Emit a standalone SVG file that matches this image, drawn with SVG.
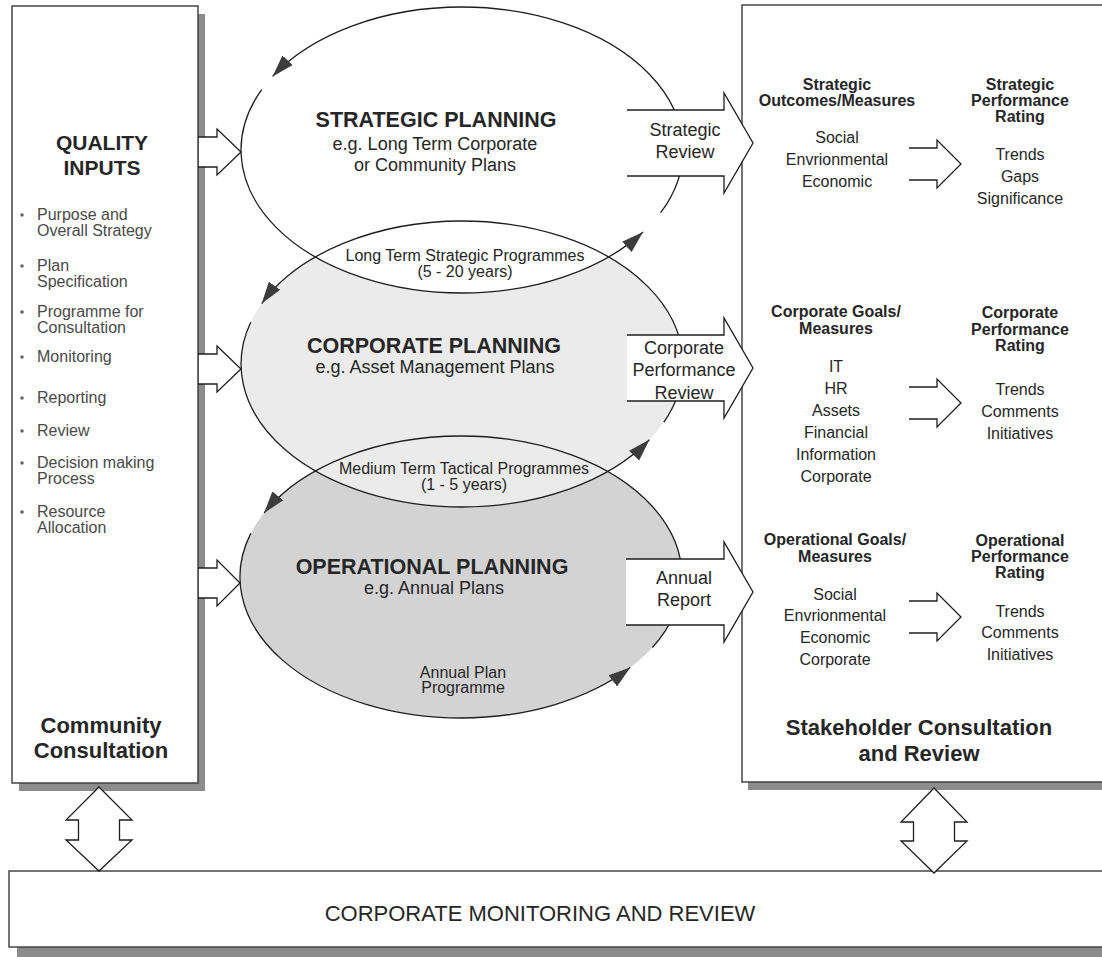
<svg xmlns="http://www.w3.org/2000/svg" width="1102" height="957" viewBox="0 0 1102 957">
<style>
text{font-family:"Liberation Sans",Arial,Helvetica,sans-serif;fill:#262626}
.c{text-anchor:middle}
.b{font-weight:bold}
.s16{font-size:16px}
.s18{font-size:18px}
.h{font-size:21.5px;font-weight:bold}
.big{font-size:22px;font-weight:bold}
.bul{font-size:16px;fill:#4a4a4a}
.box{fill:#fff;stroke:#3a3a3a;stroke-width:1.4}
.shadow{fill:#8c8c8c}
.arc{fill:none;stroke:#1e1e1e;stroke-width:1.3;marker-end:url(#ah)}
.afill{fill:#fff;stroke:none}
.aline{fill:none;stroke:#1e1e1e;stroke-width:1.3;stroke-linejoin:miter}
.dbl{fill:#fff;stroke:#1e1e1e;stroke-width:1.3}
</style>
<defs>
<marker id="ah" markerUnits="userSpaceOnUse" markerWidth="24" markerHeight="16" viewBox="0 0 24 16" refX="22" refY="8" orient="auto">
<path d="M0,1 L22,8 L0,15 Z" fill="#3c3c3c"/>
</marker>
</defs>
<rect width="1102" height="957" fill="#fff"/>

<g id="community-consultation">
<rect class="shadow" x="19" y="14" width="186" height="777"/>
<rect class="box" x="12" y="6" width="186" height="777"/>
<text class="c" x="102" y="150" style="font-size:21px;font-weight:bold">QUALITY</text>
<text class="c" x="102" y="175" style="font-size:21px;font-weight:bold">INPUTS</text>
<g class="bul">
<circle cx="22" cy="215" r="1.8" fill="#666"/>
<text class="bul" x="37" y="220">Purpose and</text>
<text class="bul" x="37" y="236">Overall Strategy</text>
<circle cx="22" cy="266" r="1.8" fill="#666"/>
<text class="bul" x="37" y="271">Plan</text>
<text class="bul" x="37" y="287">Specification</text>
<circle cx="22" cy="312" r="1.8" fill="#666"/>
<text class="bul" x="37" y="317">Programme for</text>
<text class="bul" x="37" y="333">Consultation</text>
<circle cx="22" cy="357" r="1.8" fill="#666"/>
<text class="bul" x="37" y="362">Monitoring</text>
<circle cx="22" cy="398" r="1.8" fill="#666"/>
<text class="bul" x="37" y="403">Reporting</text>
<circle cx="22" cy="431" r="1.8" fill="#666"/>
<text class="bul" x="37" y="436">Review</text>
<circle cx="22" cy="463" r="1.8" fill="#666"/>
<text class="bul" x="37" y="468">Decision making</text>
<text class="bul" x="37" y="484">Process</text>
<circle cx="22" cy="512" r="1.8" fill="#666"/>
<text class="bul" x="37" y="517">Resource</text>
<text class="bul" x="37" y="533">Allocation</text>
</g>
<text class="c big" x="101" y="733">Community</text>
<text class="c big" x="101" y="758">Consultation</text>
</g>

<g id="stakeholder-review">
<rect class="shadow" x="748" y="13" width="400" height="777"/>
<rect class="box" x="742" y="5" width="400" height="777"/>
<text class="c b s16" x="837" y="90">Strategic</text>
<text class="c b s16" x="837" y="106">Outcomes/Measures</text>
<text class="c s16" x="837" y="143">Social</text>
<text class="c s16" x="837" y="165">Envrionmental</text>
<text class="c s16" x="837" y="187">Economic</text>
<text class="c b s16" x="1020" y="90">Strategic</text>
<text class="c b s16" x="1020" y="106">Performance</text>
<text class="c b s16" x="1020" y="122">Rating</text>
<text class="c s16" x="1020" y="160">Trends</text>
<text class="c s16" x="1020" y="182">Gaps</text>
<text class="c s16" x="1020" y="204">Significance</text>

<text class="c b s16" x="836" y="317">Corporate Goals/</text>
<text class="c b s16" x="836" y="334">Measures</text>
<text class="c s16" x="836" y="372">IT</text>
<text class="c s16" x="836" y="394">HR</text>
<text class="c s16" x="836" y="416">Assets</text>
<text class="c s16" x="836" y="438">Financial</text>
<text class="c s16" x="836" y="460">Information</text>
<text class="c s16" x="836" y="482">Corporate</text>
<text class="c b s16" x="1020" y="318">Corporate</text>
<text class="c b s16" x="1020" y="335">Performance</text>
<text class="c b s16" x="1020" y="351">Rating</text>
<text class="c s16" x="1020" y="395">Trends</text>
<text class="c s16" x="1020" y="417">Comments</text>
<text class="c s16" x="1020" y="439">Initiatives</text>

<text class="c b s16" x="835" y="545">Operational Goals/</text>
<text class="c b s16" x="835" y="562">Measures</text>
<text class="c s16" x="835" y="600">Social</text>
<text class="c s16" x="835" y="621">Envrionmental</text>
<text class="c s16" x="835" y="643">Economic</text>
<text class="c s16" x="835" y="665">Corporate</text>
<text class="c b s16" x="1020" y="546">Operational</text>
<text class="c b s16" x="1020" y="562">Performance</text>
<text class="c b s16" x="1020" y="578">Rating</text>
<text class="c s16" x="1020" y="617">Trends</text>
<text class="c s16" x="1020" y="638">Comments</text>
<text class="c s16" x="1020" y="660">Initiatives</text>

<text class="c big" x="919" y="735">Stakeholder Consultation</text>
<text class="c big" x="919" y="761">and Review</text>
</g>

<g id="corporate-monitoring">
<rect class="shadow" x="17" y="879" width="1100" height="78"/>
<rect class="box" x="9" y="871" width="1100" height="76"/>
<text class="c" x="540" y="921" style="font-size:22px">CORPORATE MONITORING AND REVIEW</text>
</g>

<g id="operational-planning">
<ellipse cx="461" cy="577" rx="221" ry="141" fill="#d3d3d3"/>
</g>
<g id="corporate-planning">
<ellipse cx="462" cy="364" rx="221" ry="143" fill="#ebebeb"/>
</g>
<g id="strategic-planning">
<ellipse cx="462" cy="150" rx="221" ry="143" fill="#fff"/>
</g>

<g id="connectors">
<path class="arc" d="M660.6,212.7 A221,143 0 0 0 462,7 A221,143 0 0 0 272.6,76.4"/>
<path class="arc" d="M261.7,89.6 A221,143 0 0 0 462,293 A221,143 0 0 0 643,232"/>
<path class="arc" d="M663.9,422.2 A221,143 0 0 0 462,221 A221,143 0 0 0 261.7,303.6"/>
<path class="arc" d="M250.7,322.2 A221,143 0 0 0 462,507 A221,143 0 0 0 649.4,439.8"/>
<path class="arc" d="M652.4,647.5 A221,141 0 0 0 461,436 A221,141 0 0 0 264.1,513"/>
<path class="arc" d="M250.8,533.4 A221,141 0 0 0 461,718 A221,141 0 0 0 630.3,667.6"/>

<polygon class="afill" points="627,110 724,110 724,93 753,143 724,193 724,176 627,176"/>
<polyline class="aline" points="627,110 724,110 724,93 753,143 724,193 724,176 627,176"/>
<polygon class="afill" points="627,335 724,335 724,318 753,368 724,418 724,401 627,401"/>
<polyline class="aline" points="627,335 724,335 724,318 753,368 724,418 724,401 627,401"/>
<polygon class="afill" points="626,559 724,559 724,542 753,592 724,642 724,625 626,625"/>
<polyline class="aline" points="626,559 724,559 724,542 753,592 724,642 724,625 626,625"/>

<polygon class="afill" points="199,137 217,137 217,129 241,152 217,175 217,167 199,167"/>
<polyline class="aline" points="198,137 217,137 217,129 241,152 217,175 217,167 198,167"/>
<polygon class="afill" points="199,354 217,354 217,346 241,369 217,392 217,384 199,384"/>
<polyline class="aline" points="198,354 217,354 217,346 241,369 217,392 217,384 198,384"/>
<polygon class="afill" points="199,568 217,568 217,560 240,583 217,606 217,598 199,598"/>
<polyline class="aline" points="198,568 217,568 217,560 240,583 217,606 217,598 198,598"/>

<polyline class="aline" points="909,148 937,148 937,140 961,164 937,188 937,180 909,180"/>
<polyline class="aline" points="909,387 937,387 937,379 961,403 937,427 937,419 909,419"/>
<polyline class="aline" points="909,601 937,601 937,593 961,617 937,641 937,633 909,633"/>

<polygon class="dbl" points="99,787 132,820 119.5,820 119.5,840 132,840 99,871 66,840 78.5,840 78.5,820 66,820"/>
<polygon class="dbl" points="934,788 967,822 954.5,822 954.5,841 967,841 934,873 901,841 913.5,841 913.5,822 901,822"/>
</g>

<g id="labels">
<text class="c h" x="436" y="127">STRATEGIC PLANNING</text>
<text class="c s18" x="435" y="150">e.g. Long Term Corporate</text>
<text class="c s18" x="435" y="171">or Community Plans</text>
<text class="c s16" x="465" y="261">Long Term Strategic Programmes</text>
<text class="c s16" x="465" y="277">(5 - 20 years)</text>
<text class="c h" x="434" y="353">CORPORATE PLANNING</text>
<text class="c s18" x="435" y="373">e.g. Asset Management Plans</text>
<text class="c s16" x="464" y="474">Medium Term Tactical Programmes</text>
<text class="c s16" x="464" y="490">(1 - 5 years)</text>
<text class="c h" x="432" y="574">OPERATIONAL PLANNING</text>
<text class="c s18" x="434" y="594">e.g. Annual Plans</text>
<text class="c s16" x="463" y="678">Annual Plan</text>
<text class="c s16" x="463" y="693">Programme</text>
<text class="c s18" x="685" y="136">Strategic</text>
<text class="c s18" x="685" y="158">Review</text>
<text class="c s18" x="684" y="354">Corporate</text>
<text class="c s18" x="684" y="376">Performance</text>
<text class="c s18" x="684" y="399">Review</text>
<text class="c s18" x="684" y="584">Annual</text>
<text class="c s18" x="684" y="606">Report</text>
</g>
</svg>
